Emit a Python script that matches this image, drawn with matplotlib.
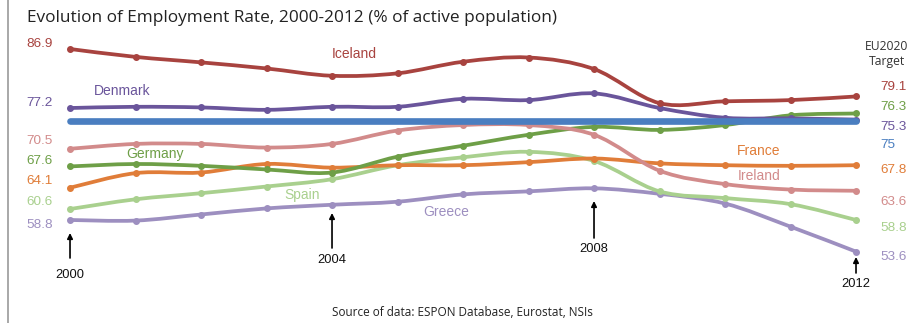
import matplotlib
matplotlib.use("Agg")
import matplotlib.pyplot as plt
import numpy as np
from matplotlib.path import Path
from matplotlib.patches import PathPatch

# employment rate (% of active population), 2000-2012
years = list(range(2000, 2013))
iceland = [86.9, 85.6, 84.7, 83.7, 82.5, 82.9, 84.8, 85.5, 83.6, 78.0, 78.3, 78.5, 79.1]
denmark = [77.2, 77.4, 77.3, 76.9, 77.4, 77.4, 78.7, 78.5, 79.6, 77.2, 75.6, 75.5, 75.3]
ireland = [70.5, 71.3, 71.3, 70.7, 71.3, 73.5, 74.4, 74.4, 72.8, 66.9, 64.7, 63.8, 63.6]
germany = [67.6, 68.0, 67.7, 67.1, 66.6, 69.2, 71.0, 72.8, 74.1, 73.6, 74.4, 76.0, 76.3]
france = [64.1, 66.5, 66.6, 68.0, 67.4, 67.8, 67.8, 68.3, 68.9, 68.1, 67.8, 67.7, 67.8]
spain = [60.6, 62.2, 63.2, 64.3, 65.5, 67.8, 69.1, 70.0, 68.5, 63.5, 62.4, 61.4, 58.8]
greece = [58.8, 58.7, 59.7, 60.7, 61.3, 61.8, 63.0, 63.5, 64.0, 63.1, 61.5, 57.7, 53.6]
eu_target = 75

start_labels = ["86.9", "77.2", "70.5", "67.6", "64.1", "60.6", "58.8"]
end_labels = ["79.1", "76.3", "75.3", "75", "67.8", "63.6", "58.8", "53.6"]
marked_years = [2000, 2004, 2008, 2012]

c_ice = "#a8433f"
c_den = "#6a559b"
c_ire = "#d28b8b"
c_ger = "#6e9f47"
c_fra = "#e07d39"
c_spa = "#a9d08e"
c_gre = "#9d8fc0"
c_eu = "#4a7ec0"

LBL = "Liberation Sans"


def smooth_path(x, y, t=1.0):
    # Catmull-Rom style bezier through every data point
    x = np.asarray(x, float)
    y = np.asarray(y, float)
    pts = np.column_stack([x, y])
    verts = [pts[0]]
    codes = [Path.MOVETO]
    n = len(pts)
    for i in range(n - 1):
        p0 = pts[max(i - 1, 0)]
        p1 = pts[i]
        p2 = pts[i + 1]
        p3 = pts[min(i + 2, n - 1)]
        c1 = p1 + (p2 - p0) / 6 * t
        c2 = p2 - (p3 - p1) / 6 * t
        verts += [c1, c2, p2]
        codes += [Path.CURVE4] * 3
    return Path(verts, codes)


fig = plt.figure(figsize=(9.24, 3.23), dpi=100)
ax = fig.add_axes([0, 0, 1, 1])
ax.set_xlim(1998.931, 2013.038)
ax.set_ylim(41.87, 94.95)
ax.axis("off")

# EU2020 target
ax.plot([years[0], years[-1]], [eu_target, eu_target], color=c_eu, lw=4.8,
        solid_capstyle="round", zorder=3)

series = [
    (greece, c_gre), (spain, c_spa), (france, c_fra), (germany, c_ger),
    (ireland, c_ire), (denmark, c_den), (iceland, c_ice),
]
for vals, col in series:
    ax.add_patch(PathPatch(smooth_path(years, vals), fill=False, edgecolor=col,
                           lw=2.7, capstyle="round", zorder=2))
    ax.plot(years, vals, ls="none", marker="o", ms=4, color=col, zorder=2)

# values at start and end
start_cols = [c_ice, c_den, c_ire, c_ger, c_fra, c_spa, c_gre]
start_y = [44, 103, 141, 161, 181, 202, 225]
for lab, col, yp in zip(start_labels, start_cols, start_y):
    fig.text(53 / 924, 1 - yp / 323, lab, color=col, fontsize=9.7, family=LBL,
             ha="right", va="center")

end_cols = [c_ice, c_ger, c_den, c_eu, c_fra, c_ire, c_spa, c_gre]
end_y = [87, 107, 127, 145, 170, 202, 228, 257]
for lab, col, yp in zip(end_labels, end_cols, end_y):
    fig.text(880 / 924, 1 - yp / 323, lab, color=col, fontsize=9.7, family=LBL,
             ha="left", va="center")

fig.text(887 / 924, 1 - 54 / 323, "EU2020\nTarget", color="#333333", fontsize=8.7,
         family="Open Sans", ha="center", va="center", linespacing=1.1)

# country names
names = [
    ("Iceland", c_ice, 332, 54), ("Denmark", c_den, 94, 91),
    ("Germany", c_ger, 126, 154), ("Spain", c_spa, 284, 195),
    ("Greece", c_gre, 423, 212), ("France", c_fra, 737, 151),
    ("Ireland", c_ire, 738, 176),
]
for name, col, xp, yp in names:
    fig.text(xp / 924, 1 - yp / 323, name, color=col, fontsize=10, family=LBL,
             ha="left", va="center")

# year markers
arrow_spans = {2000: (233, 258, 275), 2004: (213, 248, 260),
               2008: (201, 238, 249), 2012: (257, 273, 284)}
for yr in marked_years:
    tip, tail, ty = arrow_spans[yr]
    xf = ax.transData.transform((yr, 60))[0] / 924
    ax.annotate("", xy=(xf, 1 - tip / 323), xytext=(xf, 1 - tail / 323),
                xycoords="figure fraction", textcoords="figure fraction",
                arrowprops=dict(arrowstyle="-|>", color="black", lw=1.2,
                                mutation_scale=8, shrinkA=0, shrinkB=0))
    fig.text(xf, 1 - ty / 323, str(yr), fontsize=9.3, family=LBL, color="#111111",
             ha="center", va="center")

fig.text(27 / 924, 1 - 18 / 323,
         "Evolution of Employment Rate, 2000-2012 (% of active population)",
         fontsize=12.4, family="Open Sans", color="#222222", ha="left", va="center")
fig.text(462 / 924, 1 - 313 / 323, "Source of data: ESPON Database, Eurostat, NSIs",
         fontsize=8.5, family="Open Sans", color="#222222", ha="center", va="center")

# left border line
fig.add_artist(plt.Line2D([8 / 924, 8 / 924], [0, 1], color="#9a9a9a", lw=1.2,
                          transform=fig.transFigure))

fig.savefig("out.png", dpi=100)
